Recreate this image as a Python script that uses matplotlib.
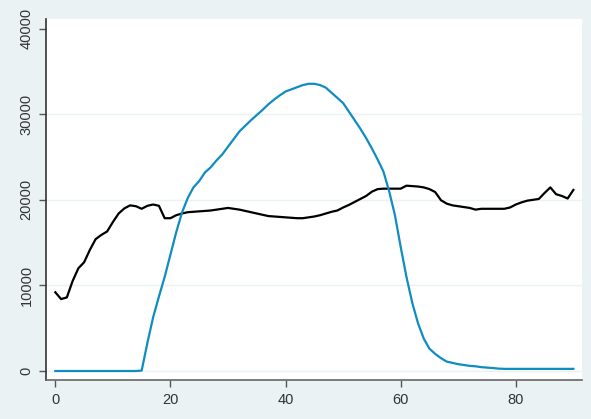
import matplotlib
matplotlib.use("Agg")
import matplotlib.pyplot as plt

days = list(range(0, 91))

black_series = [
    9200, 8400, 8600, 10500, 12000, 12700, 14150, 15400, 15900, 16300,
    17400, 18400, 19000, 19350, 19250, 18950, 19300, 19450, 19300, 17850,
    17850, 18200, 18400, 18550, 18600, 18650, 18700, 18750, 18850, 18950,
    19050, 18950, 18850, 18700, 18550, 18400, 18250, 18100, 18050, 18000,
    17950, 17900, 17850, 17850, 17950, 18050, 18200, 18400, 18600, 18750,
    19100, 19400, 19750, 20100, 20450, 20950, 21250, 21300, 21300, 21300,
    21300, 21650, 21600, 21550, 21450, 21250, 20900, 19950, 19550, 19350,
    19250, 19150, 19050, 18850, 18950, 18950, 18950, 18950, 18950, 19100,
    19450, 19700, 19900, 20000, 20100, 20800, 21450, 20650, 20450, 20150,
    21150,
]

blue_series = [
    0, 0, 0, 0, 0, 0, 0, 0, 0, 0,
    0, 0, 0, 0, 0, 50, 3300, 6300, 8700, 11000,
    13600, 16200, 18500, 20200, 21450, 22200, 23200, 23800, 24600, 25300,
    26200, 27100, 28000, 28650, 29300, 29900, 30500, 31150, 31700, 32200,
    32650, 32900, 33150, 33400, 33550, 33550, 33400, 33100, 32500, 31900,
    31300, 30300, 29300, 28300, 27200, 26000, 24700, 23300, 21000, 18200,
    14500, 11000, 8000, 5600, 3800, 2600, 2000, 1500, 1100, 950,
    800, 700, 600, 550, 450, 400, 350, 280, 250, 250,
    250, 250, 250, 250, 250, 250, 250, 250, 250, 250,
    250,
]

x_ticks = [0, 20, 40, 60, 80]
y_ticks = [0, 10000, 20000, 30000, 40000]
grid_values = [0, 10000, 20000, 30000]

bg = "#EAF2F3"
fig = plt.figure(figsize=(5.91, 4.19), dpi=100, facecolor=bg)
ax = fig.add_axes([46 / 591, 39 / 419, 536 / 591, 361 / 419])
ax.set_facecolor("white")

for g in grid_values:
    ax.axhline(g, color=bg, lw=1.0, zorder=1)

ax.plot(days, black_series, color="black", lw=1.6, zorder=3)
ax.plot(days, blue_series, color="#0f8cc0", lw=1.6, zorder=3)

ax.set_xlim(-1.62, 91.5)
ax.set_ylim(-1050, 41120)

ax.set_xticks(x_ticks)
ax.set_yticks(y_ticks)
ax.set_xticklabels([str(v) for v in x_ticks])
ax.set_yticklabels([str(v) for v in y_ticks], rotation=90, va="center")

for lab in ax.get_xticklabels() + ax.get_yticklabels():
    lab.set_fontfamily("Liberation Sans")
    lab.set_fontsize(10.5)
    lab.set_color("#333333")

ax.tick_params(axis="both", direction="out", length=5, width=1.0, color="#555555", pad=4)

for s in ["top", "right"]:
    ax.spines[s].set_visible(False)
ax.spines["left"].set_color("#333333")
ax.spines["bottom"].set_color("#666666")
ax.spines["left"].set_linewidth(1.2)
ax.spines["bottom"].set_linewidth(1.2)

fig.savefig("out.png", dpi=100, facecolor=bg)
